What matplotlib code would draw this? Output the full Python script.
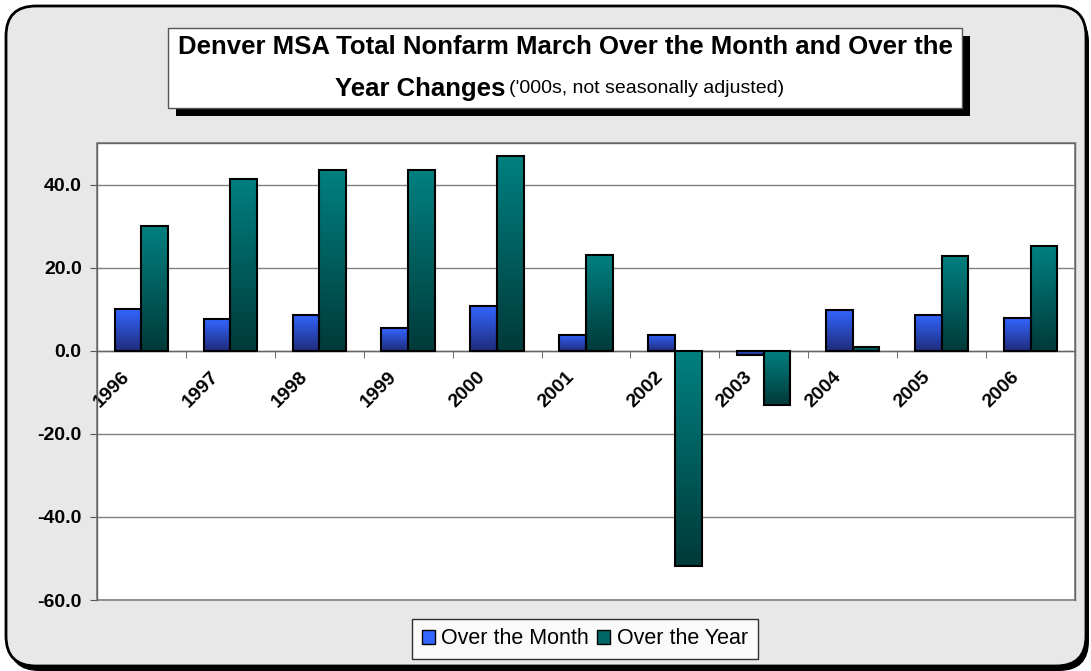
import matplotlib.pyplot as plt
import numpy as np
from matplotlib.patches import FancyBboxPatch, Rectangle, Patch
from matplotlib.colors import LinearSegmentedColormap
import matplotlib.transforms as mtransforms

# Denver MSA total nonfarm, March changes ('000s)
years = ['1996', '1997', '1998', '1999', '2000', '2001',
         '2002', '2003', '2004', '2005', '2006']
over_month = [10.1, 7.7, 8.7, 5.4, 10.7, 3.9, 3.9, -1.0, 9.7, 8.7, 7.8]
over_year = [29.9, 41.4, 43.4, 43.4, 46.8, 23.1, -51.8, -13.0, 1.0, 22.7, 25.1]
series_names = ['Over the Month', 'Over the Year']

plt.rcParams['font.family'] = ['Liberation Sans', 'DejaVu Sans']

fig = plt.figure(figsize=(10.91, 6.71), dpi=100)
fig.patch.set_facecolor('white')
inch = fig.dpi_scale_trans

# outer rounded panel with drop shadow
fig.patches.append(FancyBboxPatch((0.09, 0.0), 10.80, 6.59,
                                  boxstyle='round,pad=0,rounding_size=0.3',
                                  transform=inch, facecolor='black', edgecolor='none', zorder=0))
fig.patches.append(FancyBboxPatch((0.06, 0.05), 10.80, 6.60,
                                  boxstyle='round,pad=0,rounding_size=0.3',
                                  transform=inch, facecolor='#e8e8e8', edgecolor='black',
                                  linewidth=2, zorder=1))

# title box with shadow
fig.patches.append(Rectangle((1.76, 5.55), 7.94, 0.80, transform=inch,
                             facecolor='black', edgecolor='none', zorder=2))
fig.patches.append(Rectangle((1.68, 5.63), 7.94, 0.80, transform=inch,
                             facecolor='white', edgecolor='#555555', linewidth=1, zorder=3))
fig.text(0.518, 0.930, 'Denver MSA Total Nonfarm March Over the Month and Over the',
         ha='center', va='center', fontsize=18.5, fontweight='bold', zorder=4)
fig.text(0.463, 0.868, 'Year Changes', ha='right', va='center',
         fontsize=18.5, fontweight='bold', zorder=4)
fig.text(0.467, 0.868, "('000s, not seasonally adjusted)", ha='left', va='center',
         fontsize=14, zorder=4)

ax = fig.add_axes([0.0889, 0.1058, 0.8964, 0.6811])
ax.set_zorder(5)
ax.set_facecolor('white')

x = np.arange(len(years))
width = 0.3
cmap_month = LinearSegmentedColormap.from_list('m', ['#1f2b7a', '#3366ff'])
cmap_year = LinearSegmentedColormap.from_list('y', ['#003a3a', '#008080'])

b1 = ax.bar(x - width / 2, over_month, width, facecolor='none', edgecolor='black',
            linewidth=1.5, zorder=4)
b2 = ax.bar(x + width / 2, over_year, width, facecolor='none', edgecolor='black',
            linewidth=1.5, zorder=4)

# vertical gradient fill inside each bar
grad = np.linspace(0, 1, 256).reshape(-1, 1)
for bars, cmap in [(b1, cmap_month), (b2, cmap_year)]:
    for rect in bars:
        x0, y0 = rect.get_x(), rect.get_y()
        w, h = rect.get_width(), rect.get_height()
        lo, hi = min(y0, y0 + h), max(y0, y0 + h)
        ax.imshow(grad, extent=[x0, x0 + w, lo, hi], origin='lower',
                  cmap=cmap, aspect='auto', zorder=3, interpolation='bilinear')

ax.set_xlim(-0.5, len(years) - 0.5)
ax.set_ylim(-60, 50)
yt = [-60, -40, -20, 0, 20, 40]
ax.set_yticks(yt)
ax.set_yticklabels([f'{v:.1f}' for v in yt], fontsize=14, fontweight='bold')
ax.yaxis.grid(True, color='#808080', linewidth=1)
ax.set_axisbelow(True)
ax.tick_params(axis='y', direction='out', length=5, color='#555555', pad=6)

# category axis crosses at zero
ax.spines['bottom'].set_position(('data', 0))
for s in ['left', 'right', 'top', 'bottom']:
    ax.spines[s].set_color('#666666')
    ax.spines[s].set_linewidth(1)
ax.patch.set_edgecolor('#808080')
ax.patch.set_linewidth(1.2)

ax.set_xticks(x)
ax.set_xticklabels(years, fontsize=14, fontweight='bold', rotation=45,
                   ha='right', rotation_mode='anchor')
ax.set_xticks(np.arange(0.5, len(years) - 0.5), minor=True)
ax.tick_params(axis='x', which='major', length=0, pad=6)
ax.tick_params(axis='x', which='minor', direction='out', length=5, color='#555555')
offset = mtransforms.ScaledTranslation(-0.20, -0.09, fig.dpi_scale_trans)
for lbl in ax.get_xticklabels():
    lbl.set_transform(lbl.get_transform() + offset)

handles = [Patch(facecolor='#3366ff', edgecolor='black', label=series_names[0]),
           Patch(facecolor='#006666', edgecolor='black', label=series_names[1])]
leg = fig.legend(handles=handles, loc='center', bbox_to_anchor=(0.536, 0.048), ncol=2,
                 fontsize=15.5, frameon=True, fancybox=False, handlelength=0.6,
                 handleheight=0.6, handletextpad=0.3, columnspacing=0.4,
                 borderpad=0.45, borderaxespad=0)
leg.get_frame().set_edgecolor('black')
leg.get_frame().set_linewidth(1)
leg.set_zorder(6)

fig.savefig('out.png', dpi=100)
